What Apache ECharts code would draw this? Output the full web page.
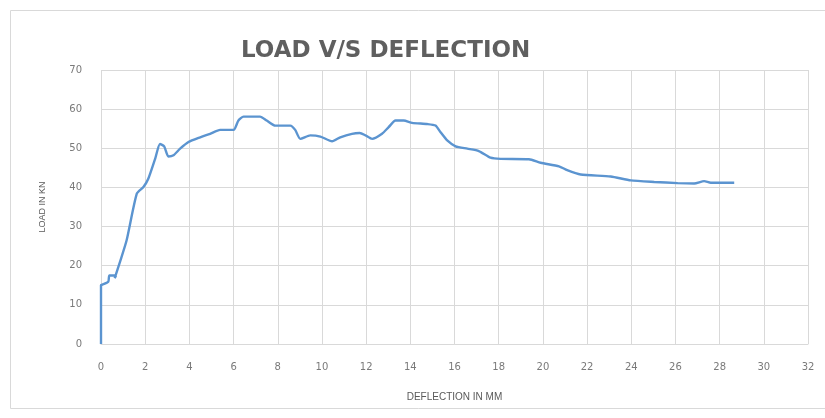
<!DOCTYPE html>
<html>
<head>
<meta charset="utf-8">
<script src="https://cdn.jsdelivr.net/npm/echarts@6/dist/echarts.min.js"></script>
<style>
  html, body { margin: 0; padding: 0; background: #fff; }
  #main { width: 825px; height: 418px; }
</style>
</head>
<body>
<div id="main"></div>
<script>
// deflection (mm) and load (kN)
const deflection = [0, 0, 0.03, 0.33, 0.38, 0.68, 0.62, 0.86, 1.16, 1.62, 1.92, 2.14, 2.45, 2.67, 2.86, 3.05, 3.28,
  3.58, 3.96, 4.49, 4.94, 5.39, 6.0, 6.22, 6.45, 7.2, 7.5, 7.89, 8.57, 8.79, 9.02, 9.47, 9.93, 10.46, 10.83,
  11.36, 11.71, 11.97, 12.27, 12.72, 13.02, 13.33, 13.7, 14.08, 14.76, 15.14, 15.37, 15.67, 16.05, 16.58,
  17.1, 17.63, 18.09, 19.37, 19.9, 20.73, 21.1, 21.71, 23.07, 23.98, 25.04, 26.1, 26.85, 27.3, 27.6, 28.66];
const load = [0, 15.0, 15.1, 15.9, 17.5, 17.5, 16.8, 21.0, 26.5, 38.4, 40.1, 42.2, 47.3, 51.1, 50.5, 47.9, 48.2,
  49.9, 51.6, 52.8, 53.7, 54.7, 54.7, 57.1, 58.1, 58.1, 57.1, 55.8, 55.8, 54.7, 52.4, 53.3, 53.0, 51.8, 52.8,
  53.7, 53.9, 53.3, 52.4, 53.7, 55.4, 57.1, 57.1, 56.5, 56.2, 55.8, 54.1, 52.0, 50.5, 49.9,
  49.3, 47.6, 47.3, 47.2, 46.3, 45.4, 44.4, 43.3, 42.8, 41.8, 41.4, 41.1, 41.0, 41.6, 41.2, 41.2];

let chartDom = document.getElementById('main');
let myChart = echarts.init(chartDom);

let points = [];
for (let i = 0; i < deflection.length; i++) {
  points.push([deflection[i], load[i]]);
}

let labelStyle = {
  color: '#7a7a7a',
  fontSize: 10,
  fontFamily: 'DejaVu Sans'
};

let option = {
  animation: false,
  title: {
    text: 'LOAD V/S DEFLECTION',
    left: 236,
    top: 35,
    textStyle: {
      color: '#5f5f5f',
      fontSize: 23,
      fontWeight: 'bold',
      fontFamily: 'DejaVu Sans'
    }
  },
  graphic: [{
    type: 'rect',
    shape: {x: 10.5, y: 10.5, width: 830, height: 398},
    style: {fill: 'none', stroke: '#d9d9d9', lineWidth: 1},
    silent: true
  }],
  grid: {
    left: 101,
    right: 17,
    top: 70,
    bottom: 74
  },
  xAxis: {
    type: 'value',
    min: 0,
    max: 32,
    interval: 2,
    name: 'DEFLECTION IN MM',
    nameLocation: 'middle',
    nameGap: 48,
    nameTextStyle: {color: '#595959', fontSize: 10, fontFamily: 'Liberation Sans'},
    axisLine: {lineStyle: {color: '#d9d9d9'}},
    axisTick: {show: false},
    axisLabel: Object.assign({margin: 18}, labelStyle),
    splitLine: {show: true, lineStyle: {color: '#d9d9d9', width: 1}}
  },
  yAxis: {
    type: 'value',
    min: 0,
    max: 70,
    interval: 10,
    name: 'LOAD IN KN',
    nameLocation: 'middle',
    nameGap: 54,
    nameTextStyle: {color: '#595959', fontSize: 9, fontFamily: 'Liberation Sans'},
    axisLine: {show: false},
    axisTick: {show: false},
    axisLabel: Object.assign({margin: 19}, labelStyle),
    splitLine: {show: true, lineStyle: {color: '#d9d9d9', width: 1}}
  },
  series: [{
    type: 'line',
    data: points,
    showSymbol: false,
    smooth: 0.2,
    lineStyle: {color: '#5b94d0', width: 2.4},
    itemStyle: {color: '#5b94d0'}
  }]
};
option && myChart.setOption(option);
</script>
</body>
</html>
